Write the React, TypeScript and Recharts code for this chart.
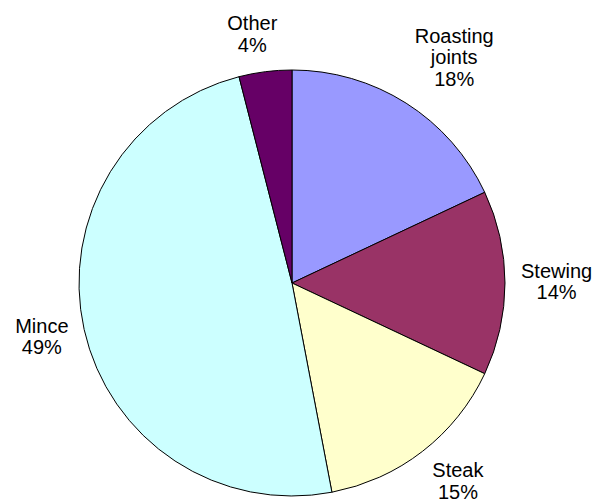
import React from "react";
import { PieChart, Pie, Cell } from "recharts";

const categories = ["Roasting joints", "Stewing", "Steak", "Mince", "Other"];
const shares = [18, 14, 15, 49, 4];
const colors = ["#9999FF", "#993366", "#FFFFCC", "#CCFFFF", "#660066"];

const data = categories.map((name, i) => ({ name, value: shares[i] }));

const FONT_SIZE = 20;
const LINE_H = 21.5;
const CAP_H = 14.5;
const DESC = 4;
const LABEL_GAP = 16;
const FONT = "'Liberation Sans', Arial, sans-serif";

let ctx: CanvasRenderingContext2D | null = null;
function measure(t: string): number {
  if (!ctx) {
    const c = document.createElement("canvas");
    ctx = c.getContext("2d");
  }
  if (ctx) {
    ctx.font = `${FONT_SIZE}px ${FONT}`;
    return ctx.measureText(t).width;
  }
  return t.length * FONT_SIZE * 0.55;
}

const splitName = (name: string) => (name === "Roasting joints" ? ["Roasting", "joints"] : [name]);
const sat = (t: number, k: number) => Math.max(-1, Math.min(1, t * k));

const renderLabel = (props: any) => {
  const { cx, cy, midAngle, outerRadius, name, value } = props;
  const lines = [...splitName(name), `${value}%`];
  const halfW = Math.max(...lines.map(measure)) / 2;
  const boxH = (lines.length - 1) * LINE_H + CAP_H + DESC;
  const halfH = boxH / 2;
  const rad = (midAngle * Math.PI) / 180;
  const ux = Math.cos(rad);
  const uy = -Math.sin(rad);
  const R = outerRadius + LABEL_GAP;
  const ax = cx + R * ux;
  const ay = cy + R * uy;
  const x = ax + halfW * sat(ux, 3.5);
  const yc = ay + halfH * sat(uy, 1.2);
  const top = yc - halfH;
  return (
    <text x={x} y={top} textAnchor="middle" fontFamily={FONT} fontSize={FONT_SIZE} fill="#000">
      {lines.map((l, i) => (
        <tspan key={i} x={x} y={top + CAP_H + LINE_H * i}>
          {l}
        </tspan>
      ))}
    </text>
  );
};

export default function App() {
  return (
    <div style={{ position: "absolute", left: 0, top: 0, background: "#fff" }}>
      <PieChart width={595} height={502} margin={{ top: 0, right: 0, bottom: 0, left: 0 }}>
        <Pie
          data={data}
          dataKey="value"
          nameKey="name"
          cx={292}
          cy={283}
          outerRadius={213}
          startAngle={90}
          endAngle={-270}
          stroke="#000"
          strokeWidth={1}
          label={renderLabel}
          labelLine={false}
          isAnimationActive={false}
        >
          {data.map((d, i) => (
            <Cell key={d.name} fill={colors[i]} />
          ))}
        </Pie>
      </PieChart>
    </div>
  );
}
